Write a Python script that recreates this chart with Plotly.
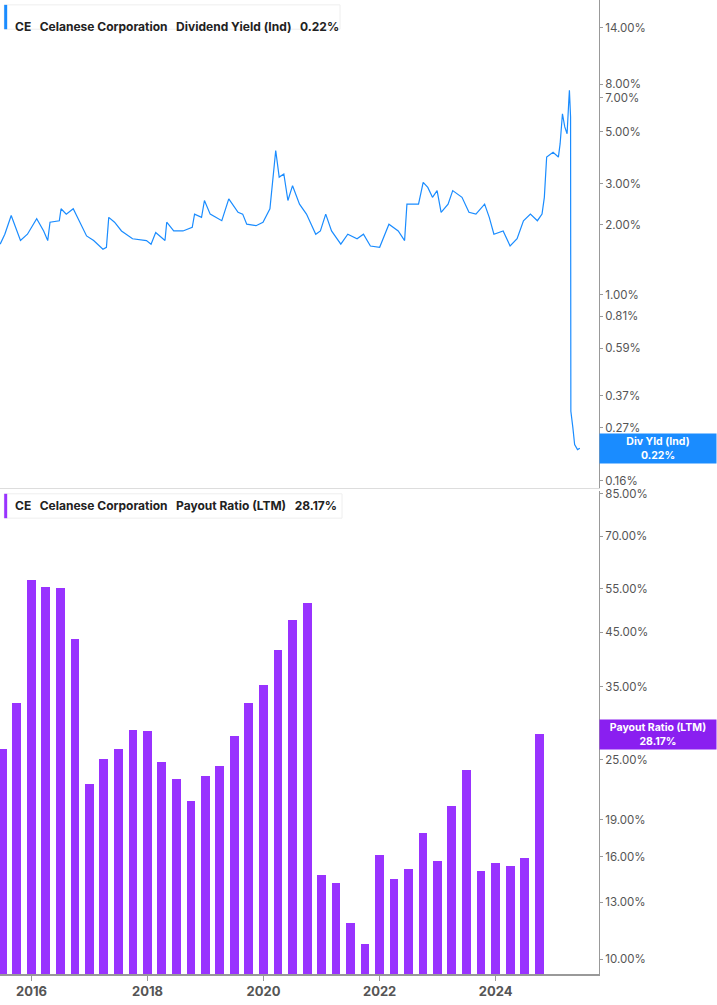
import pandas as pd
import plotly.graph_objects as go
from plotly.subplots import make_subplots

# 股息率（Ind），十進位年份 / 百分比
yield_years = [2015.46, 2015.54, 2015.65, 2015.73, 2015.81, 2015.93, 2016.09, 2016.21, 2016.28, 2016.32,
               2016.48, 2016.51, 2016.60, 2016.72, 2016.84, 2016.95, 2017.07, 2017.23, 2017.29, 2017.33,
               2017.43, 2017.55, 2017.74, 2017.98, 2018.06, 2018.14, 2018.30, 2018.33, 2018.45, 2018.61,
               2018.77, 2018.81, 2018.93, 2018.98, 2019.08, 2019.28, 2019.40, 2019.56, 2019.64, 2019.71,
               2019.87, 2019.99, 2020.11, 2020.19, 2020.21, 2020.27, 2020.35, 2020.42, 2020.50, 2020.62,
               2020.74, 2020.90, 2020.98, 2021.07, 2021.17, 2021.33, 2021.45, 2021.61, 2021.72, 2021.84,
               2022.00, 2022.16, 2022.32, 2022.43, 2022.47, 2022.55, 2022.67, 2022.75, 2022.83, 2022.91,
               2022.99, 2023.06, 2023.18, 2023.26, 2023.34, 2023.42, 2023.54, 2023.66, 2023.81, 2023.89,
               2023.97, 2024.13, 2024.25, 2024.37, 2024.48, 2024.60, 2024.72, 2024.80, 2024.84, 2024.88,
               2024.99, 2025.08, 2025.11, 2025.15, 2025.19, 2025.23, 2025.26, 2025.27, 2025.29, 2025.295,
               2025.33, 2025.36, 2025.41, 2025.45]
yield_pct = [1.65, 1.82, 2.19, 1.95, 1.71, 1.82, 2.12, 1.88, 1.71, 2.05,
             2.08, 2.34, 2.22, 2.34, 2.05, 1.79, 1.71, 1.57, 1.60, 2.15,
             2.05, 1.88, 1.74, 1.71, 1.65, 1.85, 1.71, 2.05, 1.88, 1.88,
             1.95, 2.22, 2.15, 2.54, 2.22, 2.08, 2.58, 2.26, 2.22, 2.01,
             1.98, 2.05, 2.34, 3.53, 4.16, 3.20, 3.30, 2.54, 2.94, 2.45,
             2.22, 1.82, 1.88, 2.22, 1.88, 1.65, 1.82, 1.74, 1.82, 1.62,
             1.60, 2.01, 1.88, 1.71, 2.45, 2.45, 2.45, 3.04, 2.89, 2.62,
             2.80, 2.26, 2.45, 2.80, 2.71, 2.62, 2.26, 2.22, 2.45, 2.15,
             1.82, 1.88, 1.62, 1.74, 2.08, 2.22, 2.08, 2.22, 2.62, 3.90,
             4.09, 3.90, 4.45, 5.98, 5.25, 4.91, 6.83, 7.54, 5.79, 0.317,
             0.269, 0.228, 0.217, 0.22]

# 配息率（LTM），每季
payout_dates = pd.date_range("2015-07-01", "2024-10-01", freq="QS")
payout_pct = [26.3, 32.5, 57.2, 55.3, 55.0, 43.5, 22.3, 25.1, 26.2, 28.6,
              28.5, 24.7, 22.9, 20.7, 23.2, 24.3, 27.9, 32.5, 35.2, 41.3,
              47.5, 51.4, 14.7, 14.2, 11.8, 10.7, 16.1, 14.4, 15.1, 17.8,
              15.7, 20.2, 23.8, 15.0, 15.5, 15.3, 15.9, 28.17]

top_ticks = [14, 8, 7, 5, 3, 2, 1, 0.81, 0.59, 0.37, 0.27, 0.16]
bot_ticks = [85, 70, 55, 45, 35, 25, 19, 16, 13, 10]


def to_date(y):
    yr = int(y)
    return pd.Timestamp(yr, 1, 1) + pd.Timedelta(days=(y - yr) * 365.25)


yield_dates = [to_date(y) for y in yield_years]

BLUE = "#1a8cff"
PURPLE = "#9933ff"
GRAY = "#555555"

fig = make_subplots(rows=2, cols=1, shared_xaxes=True, vertical_spacing=0.003, row_heights=[0.503, 0.497])

fig.add_trace(go.Scatter(x=yield_dates, y=yield_pct, mode="lines",
                         line=dict(color=BLUE, width=1.2), hoverinfo="skip"), row=1, col=1)
fig.add_trace(go.Bar(x=payout_dates, y=payout_pct, marker_color=PURPLE,
                     marker_line_width=0, width=56 * 86400000), row=2, col=1)

xr = [to_date(2015.457), to_date(2025.78)]
fig.update_xaxes(range=xr, showgrid=False, zeroline=False, automargin=False)
fig.update_xaxes(showticklabels=False, showline=True, linecolor="#dddddd", row=1, col=1)
fig.update_xaxes(showline=True, linecolor="#999999", linewidth=1.5, ticks="outside", ticklen=5,
                 tickcolor="#999999", tickformat="%Y", dtick="M24",
                 tick0="2016-01-01", tickfont=dict(family="Inter", size=13, color=GRAY, weight="bold"),
                 row=2, col=1)

yax = dict(type="log", side="right", showgrid=False, zeroline=False, showline=True, linecolor="#999999",
           ticks="outside", ticklen=3, tickcolor="#999999", automargin=False,
           tickfont=dict(family="Inter", size=11.5, color=GRAY))
fig.update_yaxes(**yax, range=[-0.830, 1.2645], tickvals=top_ticks,
                 ticktext=[f"{v:.2f}%" for v in top_ticks], row=1, col=1)
fig.update_yaxes(**yax, range=[0.9703, 1.9345], tickvals=bot_ticks,
                 ticktext=[f"{v:.2f}%" for v in bot_ticks], row=2, col=1)

# 圖例框
for y0, y1, col, label in [(0.970, 0.995, BLUE, "Dividend Yield (Ind)&nbsp;&nbsp; 0.22%"),
                            (0.468, 0.493, PURPLE, "Payout Ratio (LTM)&nbsp;&nbsp; 28.17%")]:
    x1 = 340 / 599 if col == BLUE else 342 / 599
    fig.add_shape(type="rect", xref="paper", yref="paper", x0=0.007, x1=x1, y0=y0, y1=y1,
                  line=dict(color="#eeeeee", width=1), fillcolor="white")
    fig.add_shape(type="rect", xref="paper", yref="paper", x0=0.007, x1=0.012, y0=y0, y1=y1,
                  line_width=0, fillcolor=col)
    fig.add_annotation(xref="paper", yref="paper", x=0.022, y=(y0 + y1) / 2, xanchor="left",
                       showarrow=False, align="left",
                       text="<b>CE&nbsp;&nbsp; Celanese Corporation&nbsp;&nbsp; " + label + "</b>",
                       font=dict(family="Inter", size=12, color="#222222"))

# 右側標籤
fig.add_annotation(xref="paper", yref="y", x=1.0, y=-0.66, xanchor="left", showarrow=False,
                   text="<b>Div Yld (Ind)<br>0.22%</b>", bgcolor=BLUE, width=114, height=27,
                   font=dict(family="Inter", size=10.5, color="white"))
fig.add_annotation(xref="paper", yref="y2", x=1.0, y=1.4497, xanchor="left", showarrow=False,
                   text="<b>Payout Ratio (LTM)<br>28.17%</b>", bgcolor="#8a1ff0", width=114, height=27,
                   font=dict(family="Inter", size=10.5, color="white"))

fig.update_layout(width=717, height=1005, margin=dict(l=0, r=118, t=0, b=31, autoexpand=False),
                  plot_bgcolor="white", paper_bgcolor="white", showlegend=False, bargap=0)

fig.write_html("out.html", config={"displayModeBar": False},
               post_script="document.body.style.margin='0';")
